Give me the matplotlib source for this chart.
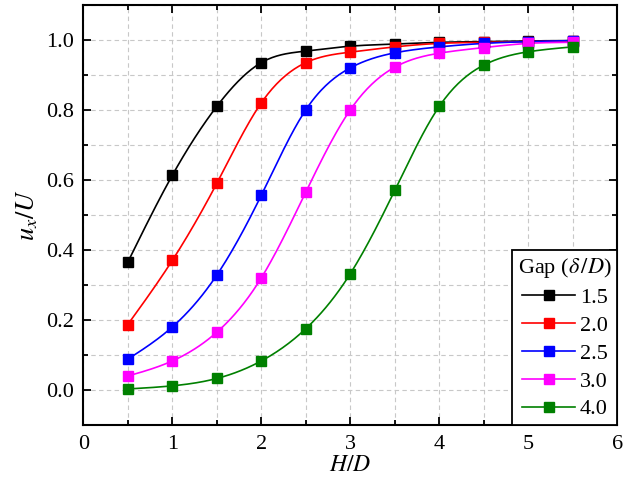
import numpy as np
import matplotlib
matplotlib.use("Agg")
import matplotlib.pyplot as plt
from matplotlib.ticker import MultipleLocator

plt.rcParams['font.family'] = ['Liberation Serif', 'DejaVu Serif']
plt.rcParams['mathtext.fontset'] = 'stix'

hd = [0.5, 1.0, 1.5, 2.0, 2.5, 3.0, 3.5, 4.0, 4.5, 5.0, 5.5]
gap_labels = ["1.5", "2.0", "2.5", "3.0", "4.0"]
gap_colors = ["black", "red", "blue", "magenta", "green"]
ux_15 = [0.365, 0.613, 0.810, 0.935, 0.968, 0.982, 0.988, 0.993, 0.995, 0.997, 0.998]
ux_20 = [0.187, 0.370, 0.590, 0.820, 0.935, 0.965, 0.980, 0.990, 0.993, 0.995, 0.997]
ux_25 = [0.088, 0.180, 0.328, 0.556, 0.800, 0.920, 0.963, 0.980, 0.990, 0.995, 0.998]
ux_30 = [0.040, 0.083, 0.165, 0.320, 0.565, 0.800, 0.922, 0.962, 0.978, 0.990, 0.993]
ux_40 = [0.003, 0.012, 0.033, 0.083, 0.175, 0.332, 0.570, 0.810, 0.928, 0.966, 0.980]
series = [ux_15, ux_20, ux_25, ux_30, ux_40]


def smooth(x, y, n=300):
    # natural cubic spline, only used to draw the connecting line
    x = np.asarray(x, float)
    y = np.asarray(y, float)
    k = len(x)
    h = np.diff(x)
    A = np.zeros((k, k))
    b = np.zeros(k)
    A[0, 0] = A[-1, -1] = 1
    for i in range(1, k - 1):
        A[i, i - 1] = h[i - 1]
        A[i, i] = 2 * (h[i - 1] + h[i])
        A[i, i + 1] = h[i]
        b[i] = 6 * ((y[i + 1] - y[i]) / h[i] - (y[i] - y[i - 1]) / h[i - 1])
    m = np.linalg.solve(A, b)
    xs = np.linspace(x[0], x[-1], n)
    idx = np.clip(np.searchsorted(x, xs) - 1, 0, k - 2)
    x0, x1 = x[idx], x[idx + 1]
    hh = x1 - x0
    t0 = x1 - xs
    t1 = xs - x0
    ys = (m[idx] * t0**3 + m[idx + 1] * t1**3) / (6 * hh) \
        + (y[idx] / hh - m[idx] * hh / 6) * t0 \
        + (y[idx + 1] / hh - m[idx + 1] * hh / 6) * t1
    return xs, ys


fig = plt.figure(figsize=(6.26, 4.88), dpi=100)
ax = fig.add_axes([0.133, 0.129, 0.853, 0.861])

for vals, lab, col in zip(series, gap_labels, gap_colors):
    xs, ys = smooth(hd, vals)
    ax.plot(xs, ys, color=col, lw=1.2, zorder=3)
    ax.plot(hd, vals, ls='none', marker='s', ms=6.5, color=col, zorder=4)
    ax.plot([], [], color=col, lw=1.2, marker='s', ms=6.5, label=lab)

ax.set_xlim(0, 6)
ax.set_ylim(-0.1, 1.1)
ax.xaxis.set_major_locator(MultipleLocator(1))
ax.xaxis.set_minor_locator(MultipleLocator(0.5))
ax.yaxis.set_minor_locator(MultipleLocator(0.1))
ax.set_yticks(np.arange(0, 1.01, 0.2))
ax.set_yticklabels(["0.0", "0.2", "0.4", "0.6", "0.8", "1.0"])

ax.grid(True, which='both', ls=(0, (4, 3)), color='#c8c8c8', lw=0.8)
ax.set_axisbelow(True)

ax.tick_params(which='both', direction='in', top=True, right=True, labelsize=16, width=1.3)
ax.tick_params(which='major', length=6, pad=7)
ax.tick_params(which='minor', length=3.5)
for sp in ax.spines.values():
    sp.set_linewidth(1.5)

ax.set_xlabel("$H/D$", fontsize=17, labelpad=1)
ax.set_ylabel("$u_x/U$", fontsize=19, labelpad=4)

leg = ax.legend(title="Gap ($\\delta\\,/D$)", loc='lower right', borderaxespad=0,
                fontsize=16, title_fontsize=16, fancybox=False, framealpha=1,
                edgecolor='black', handlelength=2.4, handletextpad=0.2,
                labelspacing=0.33, borderpad=0.25)
leg.get_frame().set_linewidth(1.3)

fig.savefig("out.png", dpi=100)
